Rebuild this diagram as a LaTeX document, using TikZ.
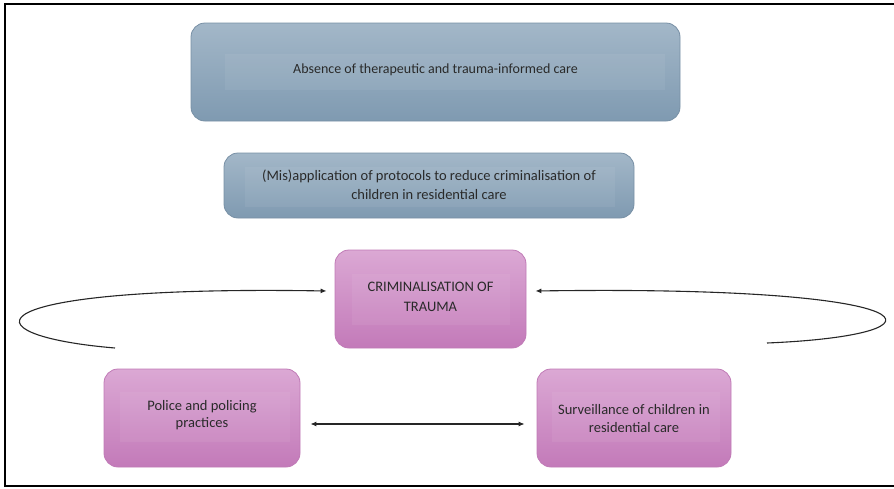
\documentclass[tikz,border=0pt]{standalone}
\usepackage{fontspec}
\setmainfont{Carlito}
\usetikzlibrary{arrows.meta,calc}
\definecolor{bluetop}{HTML}{A3B7C8}
\definecolor{bluebot}{HTML}{7F9AB1}
\definecolor{blueedge}{HTML}{7890A5}
\definecolor{pinktop}{HTML}{DBA8D4}
\definecolor{pinkbot}{HTML}{C37AB9}
\definecolor{pinkedge}{HTML}{C07AB6}
\definecolor{txt}{HTML}{2A2A2A}
\tikzset{
  box/.style={rounded corners=14pt, draw, line width=0.8pt, inner sep=0pt},
  bluebox/.style={box, draw=blueedge, top color=bluetop, bottom color=bluebot},
  pinkbox/.style={box, draw=pinkedge, top color=pinktop, bottom color=pinkbot},
  band/.style={fill=white, fill opacity=0.06, draw=none},
  label/.style={text=txt, align=center, inner sep=0pt},
  link/.style={line width=1.1pt, draw=black!85, -{Latex[length=6pt,width=5pt]}},
  frameline/.style={line width=2pt, black}
}
\begin{document}
\begin{tikzpicture}[x=1pt,y=-1pt]
\useasboundingbox (0,0) rectangle (894,488);
\draw[frameline] (894,4) -- (5,4) -- (5,486) -- (894,486);

% boxes
\node[bluebox, minimum width=489pt, minimum height=98pt] (absence) at (435.5,72) {};
\fill[band] (225,54) rectangle (665,90);
\node[label, font=\fontsize{14}{19}\selectfont] (absencet) at ([yshift=2pt]absence.center) {Absence of therapeutic and trauma-informed care};

\node[bluebox, minimum width=410pt, minimum height=65pt] (misapp) at (429,185.5) {};
\fill[band] (245,167) rectangle (615,207);
\node[label, font=\fontsize{14.5}{19.5}\selectfont] (misappt) at ([yshift=1pt]misapp.center) {(Mis)application of protocols to reduce criminalisation of\\children in residential care};

\node[pinkbox, minimum width=191pt, minimum height=98pt] (crim) at (430.5,299) {};
\fill[band] (352,274) rectangle (510,325);
\node[label, font=\fontsize{14.5}{20}\selectfont] (crimt) at ([yshift=2pt]crim.center) {CRIMINALISATION OF\\TRAUMA};

\node[pinkbox, minimum width=196pt, minimum height=98pt] (police) at (202,418) {};
\fill[band] (120,392) rectangle (290,442);
\node[label, font=\fontsize{14.5}{17}\selectfont] (policet) at ([yshift=3pt]police.center) {Police and policing\\practices};

\node[pinkbox, minimum width=194pt, minimum height=98pt] (surv) at (634,418) {};
\fill[band] (552,392) rectangle (720,442);
\node[label, font=\fontsize{14.5}{18}\selectfont] (survt) at ([yshift=-1pt]surv.center) {Surveillance of children in\\residential care};

% connectors
\coordinate (lstart) at (115,348);
\coordinate (rstart) at (767,343);
\draw[link] (lstart) .. controls (-40,335) and (-30,285) .. ([xshift=-8pt,yshift=8pt]crim.west);
\draw[link] (rstart) .. controls (960,335) and (940,285) .. ([xshift=9pt,yshift=8pt]crim.east);
\draw[line width=1.1pt, draw=black!85, {Latex[length=6pt,width=5pt]}-{Latex[length=6pt,width=5pt]}]
  ([xshift=10pt,yshift=-6pt]police.east) -- ([xshift=-12pt,yshift=-6pt]surv.west);
\end{tikzpicture}
\end{document}
